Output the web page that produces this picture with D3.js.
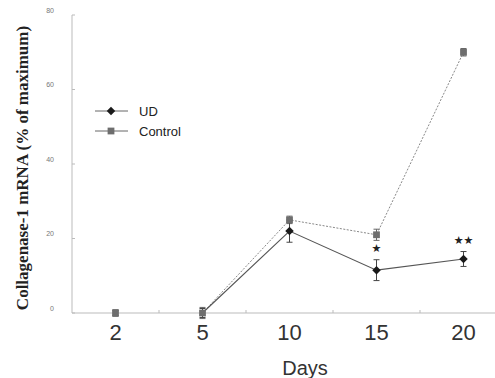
<!DOCTYPE html>
<html lang="en">
<head>
<meta charset="utf-8">
<title>Collagenase-1 mRNA</title>
<script src="https://d3js.org/d3.v7.min.js"></script>
<style>
    body { margin: 0; background: #fff; }
    svg { display: block; }
    .ylab { font-family: "Liberation Serif", "Times New Roman", serif; font-weight: bold; font-size: 17px; fill: #222; }
    .ytick text { font-family: "Liberation Sans", Arial, sans-serif; font-size: 7px; fill: #777; }
    .xtick text { font-family: "Liberation Sans", Arial, sans-serif; font-size: 22px; fill: #333; }
    .xlab { font-family: "Liberation Sans", Arial, sans-serif; font-size: 20px; fill: #333; }
    .leg { font-family: "Liberation Sans", Arial, sans-serif; font-size: 13px; fill: #222; }
</style>
</head>
<body>
<div id="chart"></div>
<script>
//_____________________________DATA_____________________________
var days = ["2", "5", "10", "15", "20"];
var udMean = [0, 0, 22, 11.5, 14.5];
var udErr = [0.8, 1.2, 3, 2.8, 2];
var ctrlMean = [0, 0, 25, 21, 70];
var ctrlErr = [0.8, 1.5, 1, 1.5, 1];
var yTicks = [0, 20, 40, 60, 80];
var stars = ["", "", "", "\u2605", "\u2605\u2605"];

//_____________________________SCALES_____________________________
var W = 495, H = 378;
var svg = d3.select("#chart").append("svg").attr("width", W).attr("height", H);

var x = d3.scaleBand().domain(days).range([72, 507]);
var cx = function (d) { return x(d) + x.bandwidth() / 2; };
var y = d3.scaleLinear().domain([0, 80]).range([313, 15]);

//_____________________________AXES_____________________________
// y axis: light line, tiny gray labels set off to the left
svg.append("line").attr("x1", 72).attr("x2", 72).attr("y1", y(80)).attr("y2", y(0))
    .attr("stroke", "#bbb").attr("stroke-width", 1);
var yt = svg.append("g").attr("class", "ytick").selectAll("g").data(yTicks).enter().append("g");
yt.append("line").attr("x1", 72).attr("x2", 75).attr("y1", function (d) { return y(d); })
    .attr("y2", function (d) { return y(d); }).attr("stroke", "#bbb");
yt.append("text").attr("x", 54).attr("y", function (d) { return y(d); }).attr("dy", "-0.3em")
    .attr("text-anchor", "end").text(function (d) { return d; });

// x axis: line to the right edge, ticks at band boundaries
svg.append("line").attr("x1", 72).attr("x2", W).attr("y1", y(0)).attr("y2", y(0))
    .attr("stroke", "#bbb").attr("stroke-width", 1);
svg.append("g").selectAll("line").data(days.slice(1)).enter().append("line")
    .attr("x1", function (d) { return x(d); }).attr("x2", function (d) { return x(d); })
    .attr("y1", y(0)).attr("y2", y(0) - 3).attr("stroke", "#bbb");
svg.append("g").attr("class", "xtick").selectAll("text").data(days).enter().append("text")
    .attr("x", function (d) { return cx(d); }).attr("y", 340).attr("text-anchor", "middle")
    .text(function (d) { return d; });

svg.append("text").attr("class", "xlab").attr("x", 305).attr("y", 375).attr("text-anchor", "middle").text("Days");
svg.append("text").attr("class", "ylab").attr("transform", "translate(28,168) rotate(-90)")
    .attr("text-anchor", "middle").text("Collagenase-1 mRNA (% of maximum)");

//_____________________________SERIES_____________________________
function rows(mean, err) {
    return days.map(function (d, i) { return { day: d, v: mean[i], e: err[i], s: stars[i] }; });
}
var ud = rows(udMean, udErr), ctrl = rows(ctrlMean, ctrlErr);

var line = d3.line().x(function (d) { return cx(d.day); }).y(function (d) { return y(d.v); });

// lines start at day 5, day 2 is a lone point
svg.append("path").attr("d", line(ctrl.slice(1))).attr("fill", "none")
    .attr("stroke", "#888").attr("stroke-width", 1).attr("stroke-dasharray", "2,1.5");
svg.append("path").attr("d", line(ud.slice(1))).attr("fill", "none")
    .attr("stroke", "#555").attr("stroke-width", 1.1);

function errBars(data, col) {
    var g = svg.append("g").attr("stroke", col).attr("stroke-width", 1);
    data.forEach(function (d) {
        var px = cx(d.day);
        g.append("line").attr("x1", px).attr("x2", px).attr("y1", y(d.v - d.e)).attr("y2", y(d.v + d.e));
        g.append("line").attr("x1", px - 3).attr("x2", px + 3).attr("y1", y(d.v - d.e)).attr("y2", y(d.v - d.e));
        g.append("line").attr("x1", px - 3).attr("x2", px + 3).attr("y1", y(d.v + d.e)).attr("y2", y(d.v + d.e));
    });
}
errBars(ctrl, "#666");
errBars(ud, "#444");

// square for control, square turned 45 degrees for UD
var sq = d3.symbol().type(d3.symbolSquare).size(46);
var dm = d3.symbol().type(d3.symbolSquare).size(36);

svg.append("g").selectAll("path").data(ctrl).enter().append("path")
    .attr("d", sq).attr("fill", "#6e6e6e")
    .attr("transform", function (d) { return "translate(" + cx(d.day) + "," + y(d.v) + ")"; });
svg.append("g").selectAll("path").data(ud.slice(2)).enter().append("path")
    .attr("d", dm).attr("fill", "#1a1a1a")
    .attr("transform", function (d) { return "translate(" + cx(d.day) + "," + y(d.v) + ") rotate(45)"; });

// significance marks above the UD points
svg.append("g").selectAll("text").data(ud.filter(function (d) { return d.s; })).enter().append("text")
    .attr("x", function (d) { return cx(d.day); })
    .attr("y", function (d) { return y(d.v + d.e) - 8; })
    .attr("text-anchor", "middle").attr("font-family", "DejaVu Sans, sans-serif").attr("font-size", 11)
    .attr("fill", "#222")
    .text(function (d) { return d.s; });

//_____________________________LEGEND_____________________________
var leg = [{ name: "UD", sym: dm, col: "#1a1a1a", ly: 111, r: 45 }, { name: "Control", sym: sq, col: "#6e6e6e", ly: 131, r: 0 }];
var lg = svg.append("g").selectAll("g").data(leg).enter().append("g");
lg.append("line").attr("x1", 95).attr("x2", 128).attr("y1", function (d) { return d.ly; })
    .attr("y2", function (d) { return d.ly; }).attr("stroke", "#666");
lg.append("path").attr("d", function (d) { return d.sym(); }).attr("fill", function (d) { return d.col; })
    .attr("transform", function (d) { return "translate(111," + d.ly + ") rotate(" + d.r + ")"; });
lg.append("text").attr("class", "leg").attr("x", 139).attr("y", function (d) { return d.ly + 5; })
    .text(function (d) { return d.name; });
</script>
</body>
</html>
